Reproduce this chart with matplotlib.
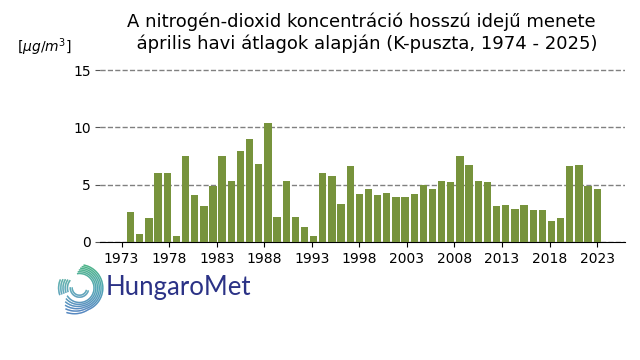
import numpy as np
import matplotlib
matplotlib.use('Agg')
from matplotlib import pyplot as plt
from matplotlib.collections import LineCollection

# data: April monthly mean NO2, K-puszta
years = list(range(1974, 2026))
no2 = [2.6, 0.7, 2.1, 6.0, 6.0, 0.5, 7.5, 4.1, 3.1, 4.9,
       7.5, 5.3, 7.9, 9.0, 6.8, 10.4, 2.2, 5.3, 2.2, 1.3,
       0.5, 6.0, 5.8, 3.3, 6.6, 4.2, 4.6, 4.1, 4.3, 3.9,
       3.9, 4.2, 5.0, 4.6, 5.3, 5.2, 7.5, 6.7, 5.3, 5.2,
       3.1, 3.2, 2.9, 3.2, 2.8, 2.8, 1.8, 2.1, 6.6, 6.7,
       4.9, 4.6]
tick_labels = [str(y) for y in range(1973, 2024, 5)]

fig = plt.figure(figsize=(6.4, 3.6), dpi=100)
ax = fig.add_axes([0.156, 0.328, 0.821, 0.493])

x = np.arange(len(years))
ax.bar(x, no2, width=0.8, color='#77933C', zorder=3)

ax.set_xlim(-3.37, 54.07)
ax.set_ylim(0, 15.5)
ax.set_yticks([0, 5, 10, 15])
ax.set_xticks(np.linspace(-1, 51, 11))
ax.set_xticklabels(tick_labels)
ax.tick_params(axis='both', labelsize=10)
ax.tick_params(axis='y', length=3.5, pad=3, color='#555555')
ax.grid(axis='y', linestyle='--', color='#808080', linewidth=1, zorder=0)
for s in ['top', 'right', 'left']:
    ax.spines[s].set_visible(False)

fig.text(0.565, 0.965,
         'A nitrogén-dioxid koncentráció hosszú idejű menete\n'
         '  április havi átlagok alapján (K-puszta, 1974 - 2025)',
         ha='center', va='top', fontsize=13, linespacing=1.25)
fig.text(0.027, 0.87, r'$[\mu g/m^3]$', fontsize=10, va='center')

# logo: spiral of thin parallel lines, green at the top, blue at the bottom
# axes placed so one data unit = 22 px, centre at pixel (79.5, 288)
unit = 22
cx, cy = 79.5, 288
lx0, lx1, ly0, ly1 = 50, 110, 256, 320
lax = fig.add_axes([lx0 / 640, (360 - ly1) / 360, (lx1 - lx0) / 640, (ly1 - ly0) / 360])
lax.set_xlim((lx0 - cx) / unit, (lx1 - cx) / unit)
lax.set_ylim((cy - ly1) / unit, (cy - ly0) / unit)
lax.axis('off')
cmap = matplotlib.colors.LinearSegmentedColormap.from_list(
    'hm', ['#1f62ad', '#13879a', '#0f9a5f'])


def spiral_line(r, a0, a1, flare=0.0):
    t = np.linspace(a0, a1, 160)
    rr = r + flare * np.clip((a0 - t) / (a0 - a1) - 0.75, 0, None) / 0.25
    px, py = rr * np.cos(np.radians(t)), rr * np.sin(np.radians(t))
    pts = np.column_stack([px, py]).reshape(-1, 1, 2)
    segs = np.concatenate([pts[:-1], pts[1:]], axis=1)
    lax.add_collection(LineCollection(segs, colors=cmap(np.clip((py[:-1] + 1) / 2, 0, 1)),
                                      linewidths=1.0))


for i, r in enumerate(np.linspace(0.66, 1.06, 6)):
    spiral_line(r, 100 - i * 4, -148 + i * 6, flare=0.2 * (i / 5))
for r in np.linspace(0.55, 0.95, 5):
    spiral_line(r, 200, 140 + (r - 0.55) * 40)
for r in [0.33, 0.42]:
    spiral_line(r, 175, 345)

fig.text(0.165, 0.2, 'HungaroMet', fontsize=18.5, color='#2b3286',
         family='Lato', va='center')

plt.savefig('out.png')
